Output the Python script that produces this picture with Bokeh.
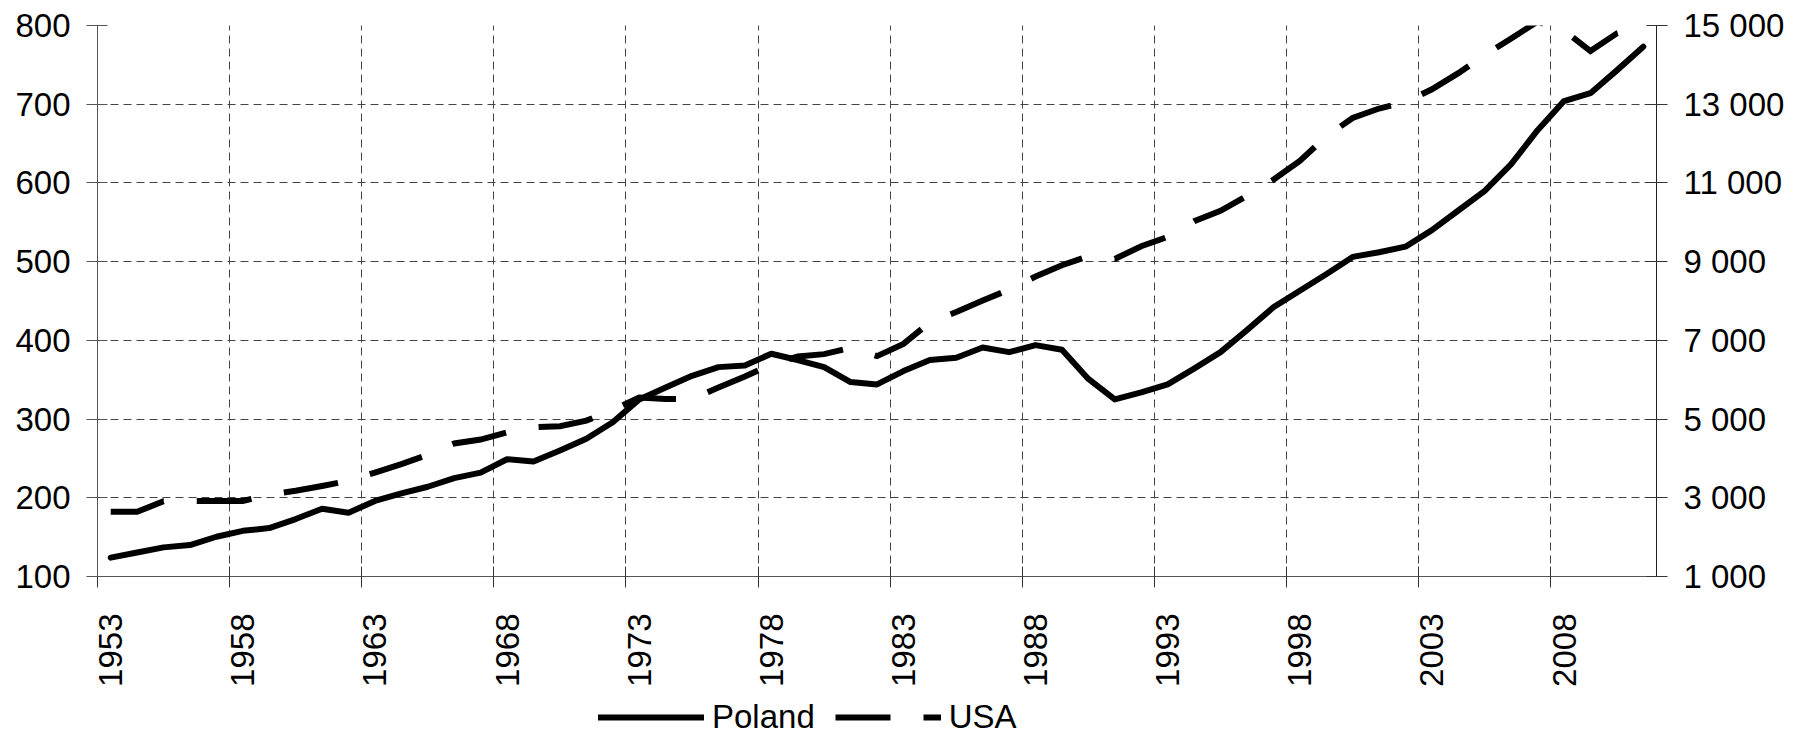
from bokeh.plotting import figure
from bokeh.models import Range1d, LinearAxis, FixedTicker, Legend, LegendItem
from bokeh.layouts import column
from bokeh.embed import file_html
from bokeh.resources import INLINE

years = list(range(1953, 2012))

poland = [124, 130.5, 137, 140, 150.5, 158, 161.5, 173, 186, 181,
          196, 205.5, 214, 225, 232, 249, 246, 260, 275, 296,
          325, 340, 355, 366, 368, 383, 375, 366, 347, 344,
          361, 375, 378, 391, 385, 394, 388, 351, 325, 334,
          344, 364, 385, 413, 442, 463, 484, 506, 512, 519,
          540, 565, 590, 624, 667, 704, 714, 743, 773]

usa = [2645, 2645, 2910, 2920, 2920, 2920, 3080, 3180, 3300, 3430,
       3640, 3857, 4094, 4380, 4480, 4660, 4790, 4820, 4960, 5230,
       5550, 5510, 5510, 5800, 6080, 6390, 6590, 6650, 6810, 6600,
       6910, 7460, 7720, 8010, 8290, 8620, 8910, 9140, 9070, 9390,
       9630, 10030, 10290, 10670, 11080, 11560, 12180, 12650, 12890, 13050,
       13380, 13790, 14250, 14670, 15100, 14870, 14350, 14800, 15000]

label_years = [1953, 1958, 1963, 1968, 1973, 1978, 1983, 1988, 1993, 1998, 2003, 2008]
left_ticks = [100, 200, 300, 400, 500, 600, 700, 800]
right_ticks = [1000, 3000, 5000, 7000, 9000, 11000, 13000, 15000]
right_labels = ["1 000", "3 000", "5 000", "7 000", "9 000", "11 000", "13 000", "15 000"]
series_names = ["Poland", "USA"]

FONT = "Liberation Sans"
boundaries = [y - 0.5 for y in label_years]

POLAND_STYLE = dict(line_width=6, line_color="black", line_join="round", line_cap="round")
USA_STYLE = dict(line_width=6, line_color="black", line_dash="55 33",
                 line_join="miter", line_cap="butt")

p = figure(width=1800, height=692, output_backend="svg", toolbar_location=None,
           x_range=Range1d(years[0] - 0.5, years[-1] + 0.5),
           y_range=Range1d(100, 800),
           min_border_left=97, min_border_right=144, min_border_top=25,
           min_border_bottom=116)
p.outline_line_color = None
p.background_fill_color = "white"

# grids
p.xgrid[0].ticker = FixedTicker(ticks=boundaries[1:])
p.xgrid[0].grid_line_color = "#444444"
p.xgrid[0].grid_line_dash = "8 5"
p.xgrid[0].grid_line_width = 1
p.ygrid[0].ticker = FixedTicker(ticks=left_ticks[1:])
p.ygrid[0].grid_line_color = "#444444"
p.ygrid[0].grid_line_dash = "8 5"
p.ygrid[0].grid_line_width = 1

# x axis
xa = p.xaxis[0]
xa.ticker = FixedTicker(ticks=label_years, minor_ticks=boundaries)
xa.major_tick_in = 0
xa.major_tick_out = 0
xa.minor_tick_in = 10
xa.minor_tick_out = 11
xa.minor_tick_line_color = "#333333"
xa.axis_line_color = "#555555"
xa.major_label_orientation = 3.14159265 / 2
xa.major_label_standoff = 26
xa.major_label_text_font = FONT
xa.major_label_text_font_size = "33px"
xa.major_label_text_color = "black"

# left axis
ya = p.yaxis[0]
ya.ticker = FixedTicker(ticks=left_ticks)
ya.major_tick_in = 10
ya.major_tick_out = 11
ya.minor_tick_line_color = None
ya.axis_line_color = "#555555"
ya.major_tick_line_color = "#555555"
ya.major_label_standoff = 16
ya.major_label_text_font = FONT
ya.major_label_text_font_size = "33px"
ya.major_label_text_color = "black"

# right axis
p.extra_y_ranges = {"usa": Range1d(1000, 15000)}
ra = LinearAxis(y_range_name="usa", ticker=FixedTicker(ticks=right_ticks),
                major_label_overrides={t: l for t, l in zip(right_ticks, right_labels)})
ra.major_tick_in = 10
ra.major_tick_out = 11
ra.minor_tick_line_color = None
ra.axis_line_color = "#222222"
ra.major_tick_line_color = "#333333"
ra.major_label_standoff = 16
ra.major_label_text_font = FONT
ra.major_label_text_font_size = "33px"
ra.major_label_text_color = "black"
p.add_layout(ra, "right")

p.line(years, poland, **POLAND_STYLE)
p.line(years, usa, y_range_name="usa", **USA_STYLE)

# legend strip (its sample lines share the series' data, kept outside its view)
q = figure(width=1800, height=44, output_backend="svg", toolbar_location=None,
           x_range=Range1d(0, 1), y_range=Range1d(0, 1),
           x_axis_type=None, y_axis_type=None,
           min_border_left=0, min_border_right=0, min_border_top=0, min_border_bottom=0)
q.outline_line_color = None
q.grid.visible = False
q1 = q.line(years, poland, **POLAND_STYLE)
q2 = q.line(years, usa, **USA_STYLE)

legend = Legend(items=[LegendItem(label=series_names[0], renderers=[q1]),
                       LegendItem(label=series_names[1], renderers=[q2])],
                location=(501, 0), orientation="horizontal",
                glyph_width=106, glyph_height=20, label_standoff=8, spacing=20,
                padding=0, margin=0, border_line_color=None,
                background_fill_alpha=0,
                label_text_font=FONT, label_text_font_size="33px",
                label_text_color="black")
q.add_layout(legend)

layout = column(p, q, spacing=0)
open("out.html", "w").write(file_html(layout, INLINE))
